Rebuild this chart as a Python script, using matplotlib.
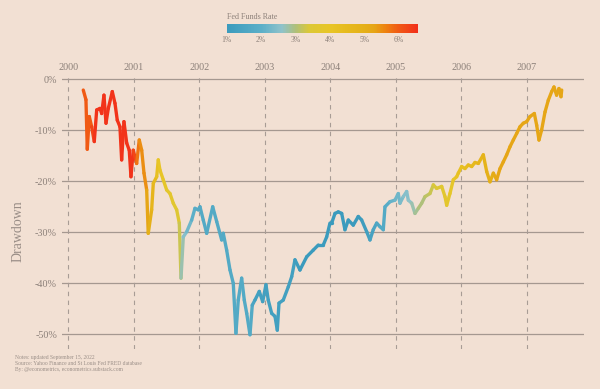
import numpy as np
import matplotlib
matplotlib.use("Agg")
import matplotlib.pyplot as plt
from matplotlib.collections import LineCollection
from matplotlib.colors import LinearSegmentedColormap, Normalize

# drawdown (decimal year, % below peak)
years = [2000.229, 2000.270, 2000.290, 2000.321, 2000.357, 2000.397, 2000.434, 2000.484,
         2000.510, 2000.545, 2000.576, 2000.611, 2000.672, 2000.713, 2000.748, 2000.789,
         2000.815, 2000.850, 2000.892, 2000.931, 2000.957, 2000.992, 2001.044, 2001.084,
         2001.121, 2001.156, 2001.197, 2001.221, 2001.273, 2001.298, 2001.350, 2001.374,
         2001.400, 2001.450, 2001.502, 2001.553, 2001.603, 2001.655, 2001.695, 2001.721,
         2001.756, 2001.808, 2001.884, 2001.934, 2001.985, 2002.011, 2002.061, 2002.113,
         2002.205, 2002.266, 2002.342, 2002.366, 2002.418, 2002.469, 2002.519, 2002.560,
         2002.595, 2002.647, 2002.687, 2002.724, 2002.774, 2002.809, 2002.850, 2002.916,
         2002.968, 2003.018, 2003.053, 2003.105, 2003.156, 2003.191, 2003.217, 2003.282,
         2003.359, 2003.411, 2003.461, 2003.537, 2003.640, 2003.740, 2003.817, 2003.893,
         2003.945, 2003.995, 2004.021, 2004.072, 2004.122, 2004.174, 2004.224, 2004.275,
         2004.351, 2004.427, 2004.479, 2004.556, 2004.606, 2004.656, 2004.708, 2004.759,
         2004.809, 2004.835, 2004.911, 2004.987, 2005.038, 2005.064, 2005.115, 2005.166,
         2005.191, 2005.243, 2005.293, 2005.344, 2005.395, 2005.446, 2005.522, 2005.573,
         2005.624, 2005.701, 2005.751, 2005.777, 2005.827, 2005.878, 2005.930, 2005.954,
         2006.006, 2006.056, 2006.107, 2006.159, 2006.209, 2006.260, 2006.336, 2006.388,
         2006.438, 2006.489, 2006.540, 2006.591, 2006.641, 2006.693, 2006.744, 2006.794,
         2006.846, 2006.896, 2006.947, 2006.998, 2007.048, 2007.115, 2007.151, 2007.186,
         2007.227, 2007.278, 2007.328, 2007.380, 2007.415, 2007.455, 2007.491, 2007.522,
         2007.533]
drawdown = [-2.1, -4.0, -13.7, -7.3, -9.3, -12.2, -6.0, -5.7,
            -6.7, -3.1, -8.6, -5.7, -2.4, -4.7, -8.0, -9.3,
            -15.8, -8.3, -12.5, -13.9, -19.1, -13.9, -16.5, -11.9,
            -13.9, -18.4, -21.7, -30.2, -25.6, -20.4, -19.1, -15.8,
            -17.8, -19.7, -21.7, -22.4, -24.3, -25.6, -28.2, -39.0,
            -30.9, -29.9, -27.6, -25.3, -25.6, -25.0, -27.6, -30.2,
            -25.0, -27.9, -31.5, -30.2, -33.5, -37.4, -40.0, -49.8,
            -43.3, -39.0, -43.3, -45.9, -50.1, -44.3, -43.3, -41.6,
            -43.6, -40.3, -43.3, -45.9, -46.5, -49.2, -43.9, -43.3,
            -40.7, -38.7, -35.4, -37.4, -34.8, -33.5, -32.5, -32.5,
            -30.9, -28.2, -28.2, -26.3, -26.0, -26.3, -29.5, -27.6,
            -28.6, -26.9, -27.6, -29.9, -31.5, -29.5, -28.2, -28.9,
            -29.5, -25.0, -24.0, -23.7, -22.4, -24.3, -23.0, -22.0,
            -23.7, -24.3, -26.3, -25.3, -24.3, -23.0, -22.4, -20.7,
            -21.4, -21.0, -23.0, -24.7, -22.4, -19.7, -19.1, -18.4,
            -17.1, -17.5, -16.8, -17.1, -16.3, -16.5, -14.8, -18.1,
            -20.1, -18.4, -19.7, -17.5, -16.2, -14.8, -13.2, -11.9,
            -10.6, -9.3, -8.6, -8.3, -7.3, -6.7, -9.0, -11.9,
            -9.9, -6.4, -4.1, -2.4, -1.5, -3.1, -1.8, -3.4,
            -2.1]

# fed funds target: date of each change and the new level (%)
rate_dates = [1999.0, 2000.088, 2000.218, 2000.372, 2001.008, 2001.083, 2001.214, 2001.293,
              2001.367, 2001.485, 2001.637, 2001.710, 2001.751, 2001.849, 2001.945, 2002.849,
              2003.482, 2004.496, 2004.609, 2004.723, 2004.860, 2004.953, 2005.088, 2005.219,
              2005.334, 2005.493, 2005.603, 2005.718, 2005.833, 2005.948, 2006.082, 2006.236,
              2006.356, 2006.490]
rate_levels = [5.50, 5.75, 6.00, 6.50, 6.00, 5.50, 5.00, 4.50,
               4.00, 3.75, 3.50, 3.00, 2.50, 2.00, 1.75, 1.25,
               1.00, 1.25, 1.50, 1.75, 2.00, 2.25, 2.50, 2.75,
               3.00, 3.25, 3.50, 3.75, 4.00, 4.25, 4.50, 4.75,
               5.00, 5.25]

year_ticks = [2000, 2001, 2002, 2003, 2004, 2005, 2006, 2007]
dd_ticks = [0, -10, -20, -30, -40, -50]
rate_ticks = [1, 2, 3, 4, 5, 6]

bg = "#f2e0d3"
txt = "#8c8079"
vmin, vmax = 1.0, 6.55
stops = [(1.0, "#3b9bbd"), (2.0, "#5cafc8"), (2.6, "#8fc2ca"), (3.0, "#afc07a"),
         (3.4, "#dcc836"), (4.0, "#e8c526"), (4.6, "#e6b81c"), (5.0, "#e5b018"),
         (5.3, "#e6a516"), (5.6, "#ee8410"), (6.0, "#f05a14"), (6.55, "#f2301a")]
cmap = LinearSegmentedColormap.from_list(
    "ffr", [((v - vmin) / (vmax - vmin), c) for v, c in stops])
norm = Normalize(vmin, vmax)

plt.rcParams["font.family"] = ["Liberation Serif", "DejaVu Serif"]

fig = plt.figure(figsize=(6, 3.89), dpi=100, facecolor=bg)
ax = fig.add_axes([0.1033, 0.1028, 0.87, 0.7042])
ax.set_facecolor(bg)

x = np.array(years)
y = np.array(drawdown)
idx = np.searchsorted(rate_dates, x, side="right") - 1
rate_at = np.array(rate_levels)[idx]
pts = np.column_stack([x, y]).reshape(-1, 1, 2)
segs = np.concatenate([pts[:-1], pts[1:]], axis=1)
seg_rate = (rate_at[:-1] + rate_at[1:]) / 2
lc = LineCollection(segs, cmap=cmap, norm=norm, linewidth=2.4, capstyle="round",
                    joinstyle="round", zorder=3)
lc.set_array(seg_rate)
ax.add_collection(lc)

for v in dd_ticks:
    ax.axhline(v, color="#a59890", lw=0.9, zorder=1)
for yr in year_ticks:
    ax.axvline(yr, color="#a89c95", lw=0.8, ls=(0, (4, 4)), zorder=1)

ax.set_xlim(1999.904, 2007.873)
ax.set_ylim(-52.9, 0.84)
ax.xaxis.tick_top()
ax.set_xticks(year_ticks)
ax.set_xticklabels([str(t) for t in year_ticks])
ax.set_yticks(dd_ticks)
ax.set_yticklabels([f"{t}%" for t in dd_ticks])
ax.tick_params(axis="both", length=0, labelsize=7.3, labelcolor=txt)
ax.tick_params(axis="x", pad=2)
ax.tick_params(axis="y", pad=3.5)
for s in ax.spines.values():
    s.set_visible(False)

fig.text(0.03, 0.406, "Drawdown", rotation=90, ha="center", va="center",
         fontsize=10, color="#9a8e87")

# colour key
cax = fig.add_axes([0.378, 0.915, 0.318, 0.023])
cb = fig.colorbar(plt.cm.ScalarMappable(norm=norm, cmap=cmap), cax=cax,
                  orientation="horizontal")
cb.outline.set_visible(False)
cb.set_ticks(rate_ticks)
cb.set_ticklabels([f"{t}%" for t in rate_ticks])
cax.tick_params(length=0, labelsize=5.5, labelcolor=txt, pad=2)
fig.text(0.378, 0.957, "Fed Funds Rate", ha="left", va="center", fontsize=5.8, color=txt)

notes = ["Notes: updated September 15, 2022",
         "Source: Yahoo Finance and St Louis Fed FRED database",
         "By: @econometrics, econometrics.substack.com"]
for i, line in enumerate(notes):
    fig.text(0.025, 1 - (357 + 6.5 * i) / 389, line, ha="left", va="center",
             fontsize=4, color="#9a8e87")

fig.savefig("out.png", dpi=100, facecolor=bg)
